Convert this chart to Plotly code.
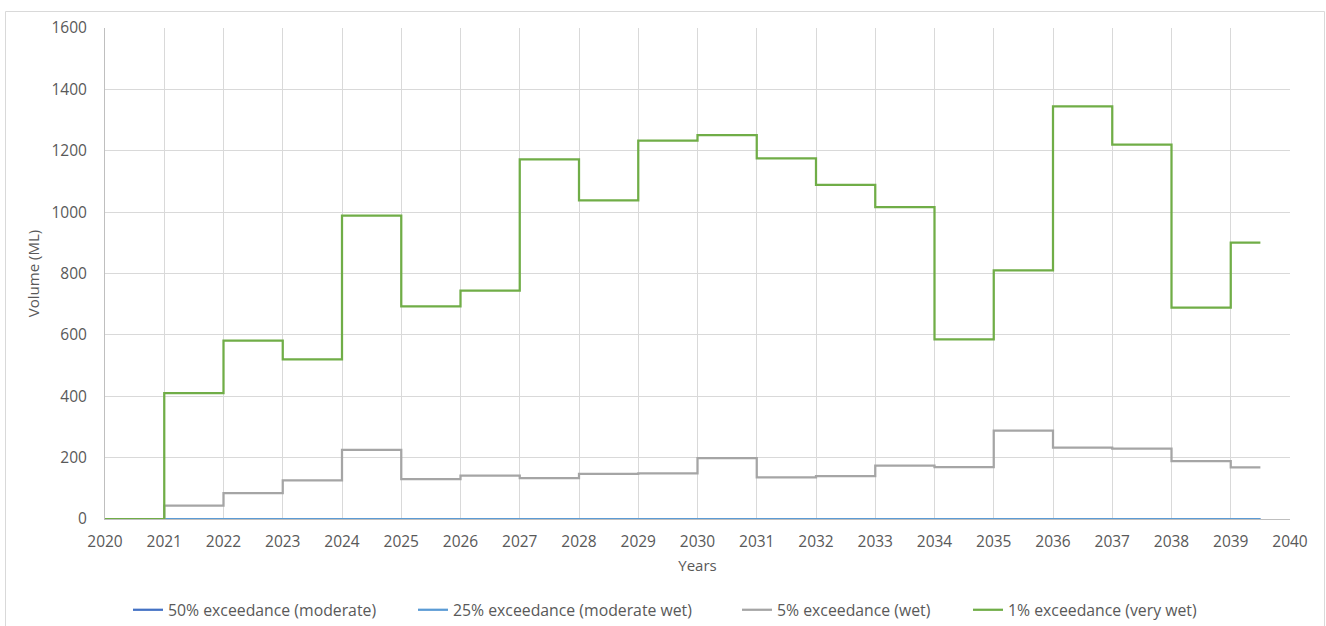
import plotly.graph_objects as go

years = list(range(2020, 2040))
end_year = 2039.5

series_names = [
    "50% exceedance (moderate)",
    "25% exceedance (moderate wet)",
    "5% exceedance (wet)",
    "1% exceedance (very wet)",
]
series_colors = ["#4472C4", "#5B9BD5", "#A5A5A5", "#70AD47"]

vol_50 = [0] * 20
vol_25 = [0] * 20
vol_5 = [0, 44, 84, 126, 225, 130, 141, 133, 147, 149,
         198, 136, 140, 174, 169, 288, 233, 229, 189, 168]
vol_1 = [0, 410, 581, 520, 989, 693, 744, 1172, 1038, 1233,
         1251, 1175, 1089, 1016, 585, 810, 1345, 1220, 689, 901]

y_ticks = list(range(0, 1601, 200))
x_ticks = list(range(2020, 2041))

W, H = 1326, 626
L, R, T, B = 105, 36, 28, 107
pw, ph = W - L - R, H - T - B


def px_to_paper_x(px):
    return (px - L) / pw


def px_to_paper_y(py):
    return (H - B - py) / ph


fig = go.Figure()
legend_ids = ["legend", "legend2", "legend3", "legend4"]
for name, color, vals, lg in zip(series_names, series_colors,
                                 [vol_50, vol_25, vol_5, vol_1], legend_ids):
    fig.add_trace(go.Scatter(
        x=years + [end_year], y=vals + [vals[-1]],
        mode="lines", line=dict(color=color, width=2.25, shape="hv"),
        name=name, legend=lg,
    ))

font_txt = "Open Sans, Arial, sans-serif"
txt_col = "#595959"
legend_x_px = [128, 413, 737, 968]
leg_common = dict(orientation="h", yanchor="middle", xanchor="left",
                  y=px_to_paper_y(610), bgcolor="rgba(0,0,0,0)",
                  font=dict(family=font_txt, size=15.8, color=txt_col),
                  borderwidth=0)
legend_layout = {}
for lg, xp in zip(legend_ids, legend_x_px):
    legend_layout[lg] = dict(x=px_to_paper_x(xp), **leg_common)

fig.update_layout(
    width=W, height=H,
    margin=dict(l=L, r=R, t=T, b=B, autoexpand=False),
    paper_bgcolor="white", plot_bgcolor="white",
    font=dict(family=font_txt, color=txt_col),
    showlegend=True,
    xaxis=dict(
        range=[2020, 2040], tickvals=x_ticks, ticktext=[str(v) for v in x_ticks],
        showgrid=True, gridcolor="#D9D9D9", gridwidth=1,
        showline=True, linecolor="#BFBFBF", linewidth=1,
        zeroline=False, ticks="", ticklabelstandoff=8,
        tickfont=dict(family=font_txt, size=15.5, color=txt_col),
        title=dict(text="Years", standoff=9,
                   font=dict(family=font_txt, size=15, color=txt_col)),
    ),
    yaxis=dict(
        range=[0, 1600], tickvals=y_ticks, ticktext=[str(v) for v in y_ticks],
        showgrid=True, gridcolor="#D9D9D9", gridwidth=1,
        showline=True, linecolor="#BFBFBF", linewidth=1,
        zeroline=False, ticks="", ticklabelstandoff=14,
        tickfont=dict(family=font_txt, size=15.5, color=txt_col),
        title=dict(text="Volume (ML)", standoff=8,
                   font=dict(family=font_txt, size=15, color=txt_col)),
    ),
    shapes=[dict(
        type="rect", xref="paper", yref="paper",
        x0=px_to_paper_x(5.5), x1=px_to_paper_x(1324.5),
        y0=px_to_paper_y(700), y1=px_to_paper_y(11.5),
        line=dict(color="#D9D9D9", width=1), fillcolor="rgba(0,0,0,0)",
        layer="below",
    )],
    **legend_layout,
)

fig.write_html("out.html",
               config={"displayModeBar": False},
               post_script="document.body.style.margin='0';"
                           "document.body.style.overflow='hidden';")
